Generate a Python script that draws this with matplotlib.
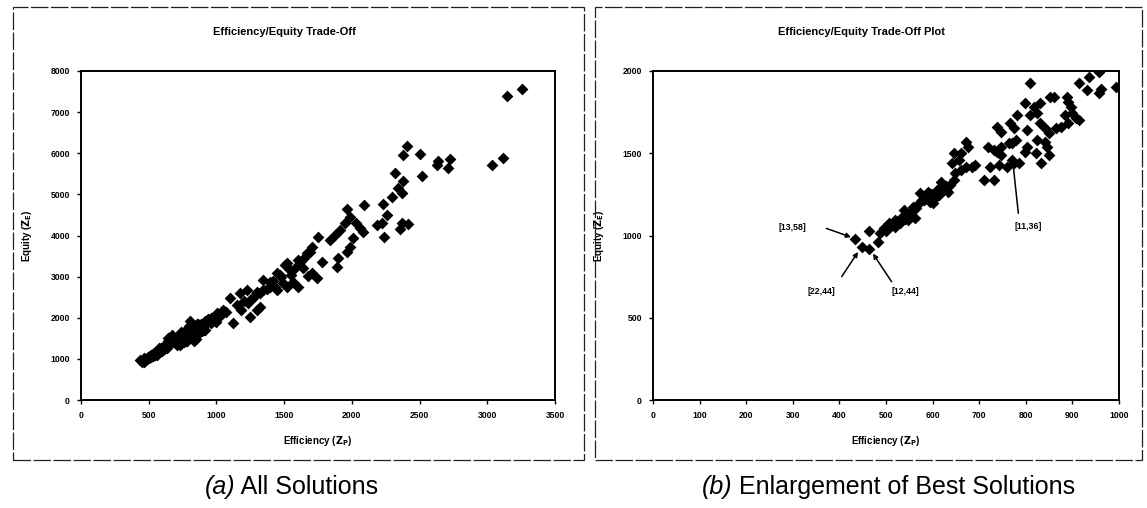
import matplotlib.pyplot as plt
from matplotlib.patches import Rectangle

# efficiency (Z_P) / equity (Z_E) of the solutions
eff = [434, 449, 463, 482, 464,
       488, 496, 500, 507, 510, 519, 519, 525, 531, 535, 540, 547, 551, 539,
       555, 563, 558, 565, 570, 574, 582, 578, 585, 590, 594, 597, 600, 601,
       605, 609, 613, 621, 625, 628, 633, 637, 645, 617, 649, 641, 660, 656,
       645, 660, 676, 672, 672, 684, 692,
       711, 731, 723, 743, 759, 719, 731, 747, 763, 770, 778, 739, 747, 770,
       786, 774, 739, 747, 766, 774, 782,
       798, 818, 830, 853, 861, 825, 809, 808,
       802, 830, 841, 849, 864, 876, 825, 841, 845, 802, 798, 821, 849, 833,
       888, 891, 896, 900, 884, 907, 891, 915,
       915, 935, 958, 931, 962, 994, 958,
       1002, 1030, 1051, 1070, 1100, 1125, 1150, 1174, 1180, 1200, 1224, 1230,
       1248, 1260, 1280, 1297, 1297, 1320, 1322, 1347, 1347, 1370, 1395,
       1396, 1420, 1433, 1445, 1445, 1470, 1480, 1494, 1507, 1518, 1519,
       1544, 1550, 1568, 1580, 1600, 1605, 1617, 1642, 1650, 1667, 1679,
       1690, 1704, 1704, 1741, 1753, 1778, 1839, 1876, 1888, 1901, 1913,
       1950, 1962, 1967, 1987, 1987, 2011, 2031, 2061, 2085, 2090, 2184,
       2221, 2228, 2238, 2258, 2295, 2319, 2344, 2356, 2369, 2369, 2376,
       2381, 2405, 2417, 2504, 2521, 2627, 2639, 2713, 2725, 3038, 3114,
       3144, 3259]
equity = [979, 932, 918, 962, 1027,
          1013, 1044, 1030, 1074, 1060, 1054, 1094, 1085, 1074, 1114, 1100,
          1094, 1135, 1155, 1150, 1104, 1175, 1170, 1196, 1256, 1216, 1216,
          1230, 1267, 1206, 1250, 1200, 1216, 1236, 1277, 1246, 1297, 1280,
          1300, 1267, 1307, 1337, 1327, 1378, 1439, 1398, 1459, 1500, 1500,
          1540, 1570, 1418, 1418, 1429,
          1337, 1337, 1418, 1429, 1418, 1540, 1520, 1540, 1560, 1560, 1581,
          1510, 1489, 1459, 1439, 1439, 1662, 1631, 1682, 1651, 1733,
          1803, 1783, 1803, 1844, 1844, 1743, 1733, 1925,
          1641, 1682, 1651, 1621, 1651, 1662, 1581, 1570, 1540, 1540, 1510,
          1500, 1489, 1439,
          1844, 1813, 1783, 1743, 1733, 1712, 1682, 1702,
          1925, 1965, 1996, 1884, 1889, 1901, 1865,
          2109, 2050, 2190, 2150, 2474, 1866, 2300, 2596, 2200, 2400, 2676,
          2350, 2028, 2474, 2500, 2190, 2636, 2600, 2271, 2920, 2676, 2700,
          2879, 2757, 2900, 2757, 3082, 2676, 3041, 3000, 2839, 3285, 2757,
          3326, 3163, 3050, 2879, 3200, 3400, 2757, 3366, 3204, 3450, 3569,
          3020, 3600, 3730, 3082, 2961, 3974, 3366, 3893, 4015, 3244, 3447,
          4136, 4299, 3609, 4639, 4460, 3730, 3933, 4299, 4177, 4096, 4745,
          4258, 4299, 4769, 3974, 4501, 4947, 5515, 5150, 4153, 5028, 4299,
          5961, 5336, 6180, 4275, 5978, 5450, 5718, 5815, 5637, 5864, 5718,
          5880, 7397, 7559]

# labelled solutions in the enlargement
ann_labels = ["[13,58]", "[22,44]", "[12,44]", "[11,36]"]
ann_points = [(425, 990), (440, 900), (472, 890), (773, 1425)]
ann_text = [(300, 1050), (362, 658), (541, 658), (805, 1054)]
ann_tail = [(372, 1043), (405, 750), (512, 719), (784, 1135)]

plt.rcParams['font.family'] = ['Liberation Sans', 'DejaVu Sans']

fig = plt.figure(figsize=(11.47, 5.08), dpi=100)
W, H = 1147.0, 508.0


def px_rect(x0, y0, x1, y1):
    return [x0 / W, 1 - y1 / H, (x1 - x0) / W, (y1 - y0) / H]


# dashed frames around each chart
for x0, x1 in [(13, 584), (595, 1142)]:
    fig.patches.append(Rectangle((x0 / W, 1 - 460 / H), (x1 - x0) / W, (460 - 7) / H,
                                 transform=fig.transFigure, fill=False,
                                 edgecolor='#222222', lw=0.9, ls=(0, (14, 2))))

ax1 = fig.add_axes(px_rect(81, 71, 555, 400))
ax2 = fig.add_axes(px_rect(653, 71, 1119, 400))

for ax in (ax1, ax2):
    ax.scatter(eff, equity, marker='D', s=36, color='black', lw=0, clip_on=True)
    for sp in ax.spines.values():
        sp.set_linewidth(1.4)
    ax.tick_params(direction='out', length=3, width=1, labelsize=6.2, pad=5)

ax1.set_xlim(0, 3500)
ax1.set_ylim(0, 8000)
ax1.set_xticks(range(0, 3501, 500))
ax1.set_yticks(range(0, 8001, 1000))
ax2.set_xlim(0, 1000)
ax2.set_ylim(0, 2000)
ax2.set_xticks(range(0, 1001, 100))
ax2.set_yticks(range(0, 2001, 500))
for ax in (ax1, ax2):
    for lab in ax.get_xticklabels() + ax.get_yticklabels():
        lab.set_fontweight('bold')
    ax.set_xlabel(r"Efficiency ($\mathbf{Z_P}$)", fontsize=7, fontweight='bold', labelpad=10)
    ax.set_ylabel(r"Equity ($\mathbf{Z_E}$)", fontsize=7, fontweight='bold', labelpad=12)

fig.text(284 / W, 1 - 32 / H, "Efficiency/Equity Trade-Off", fontsize=8,
         fontweight='bold', ha='center', va='center')
fig.text(862 / W, 1 - 32 / H, "Efficiency/Equity Trade-Off Plot", fontsize=8,
         fontweight='bold', ha='center', va='center')

for lab, pt, txt, tail in zip(ann_labels, ann_points, ann_text, ann_tail):
    ax2.text(txt[0], txt[1], lab, fontsize=6.3, fontweight='bold', ha='center', va='center')
    style = '-' if lab == "[11,36]" else '-|>'
    ax2.annotate("", xy=pt, xytext=tail,
                 arrowprops=dict(arrowstyle=style, color='black', lw=1.1,
                                 mutation_scale=7, shrinkA=0, shrinkB=0))

cap_y = 1 - 487 / H
fig.text(235 / W, cap_y, "(a)", fontsize=18, style='italic', ha='right', va='center')
fig.text(235 / W, cap_y, " All Solutions", fontsize=18, ha='left', va='center')
fig.text(732 / W, cap_y, "(b)", fontsize=18, style='italic', ha='right', va='center')
fig.text(732 / W, cap_y, " Enlargement of Best Solutions", fontsize=18, ha='left', va='center')

fig.savefig("out.png", dpi=100)
